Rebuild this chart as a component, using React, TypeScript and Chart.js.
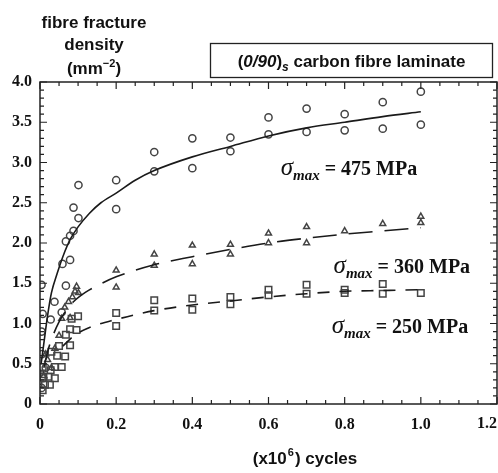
import React, { useEffect, useRef } from 'react';
import { Chart, registerables } from 'chart.js';

Chart.register(...registerables);

// ---- data ----
const cycles475 = [0.004, 0.008, 0.015, 0.005, 0.004, 0.007, 0.004, 0.028, 0.038, 0.057, 0.059, 0.079, 0.068, 0.068, 0.079, 0.088, 0.088, 0.101, 0.101,
  0.2, 0.2, 0.3, 0.3, 0.4, 0.4, 0.5, 0.5, 0.6, 0.6, 0.7, 0.7, 0.8, 0.8, 0.9, 0.9, 1.0, 1.0];
const density475 = [0.2, 0.32, 0.45, 0.62, 0.9, 1.12, 1.48, 1.05, 1.27, 1.14, 1.74, 1.79, 1.47, 2.02, 2.09, 2.15, 2.44, 2.31, 2.72,
  2.78, 2.42, 3.13, 2.89, 3.3, 2.93, 3.31, 3.14, 3.56, 3.35, 3.67, 3.38, 3.6, 3.4, 3.75, 3.42, 3.88, 3.47];

const cycles360 = [0.01, 0.02, 0.03, 0.015, 0.039, 0.05, 0.057, 0.079, 0.065, 0.075, 0.085, 0.092, 0.096, 0.101,
  0.2, 0.2, 0.3, 0.3, 0.4, 0.4, 0.5, 0.5, 0.6, 0.6, 0.7, 0.7, 0.8, 0.9, 1.0, 1.0];
const density360 = [0.35, 0.55, 0.45, 0.62, 0.69, 0.85, 1.06, 1.07, 1.2, 1.27, 1.33, 1.4, 1.46, 1.38,
  1.66, 1.45, 1.86, 1.72, 1.97, 1.74, 1.98, 1.86, 2.12, 2.0, 2.2, 2.0, 2.15, 2.24, 2.33, 2.25];

const cycles250 = [0.007, 0.013, 0.026, 0.009, 0.022, 0.039, 0.007, 0.028, 0.039, 0.057, 0.045, 0.066, 0.03, 0.05, 0.079, 0.068, 0.079, 0.096, 0.083, 0.1,
  0.2, 0.2, 0.3, 0.3, 0.4, 0.4, 0.5, 0.5, 0.6, 0.6, 0.7, 0.7, 0.8, 0.8, 0.9, 0.9, 1.0];
const density250 = [0.17, 0.24, 0.24, 0.34, 0.34, 0.32, 0.46, 0.42, 0.46, 0.46, 0.6, 0.59, 0.65, 0.72, 0.73, 0.86, 0.93, 0.92, 1.06, 1.09,
  1.13, 0.97, 1.29, 1.16, 1.31, 1.17, 1.33, 1.24, 1.42, 1.35, 1.48, 1.37, 1.42, 1.38, 1.49, 1.37, 1.38];

// fitted curves
const fitX475 = [0.003, 0.01, 0.02, 0.03, 0.045, 0.06, 0.08, 0.1, 0.13, 0.16, 0.2, 0.25, 0.3, 0.4, 0.5, 0.6, 0.7, 0.8, 0.9, 1.0];
const fitY475 = [0.5, 0.75, 1.1, 1.38, 1.62, 1.83, 2.05, 2.2, 2.37, 2.5, 2.62, 2.78, 2.9, 3.07, 3.2, 3.33, 3.43, 3.5, 3.57, 3.63];
const fitX360 = [0.01, 0.02, 0.03, 0.05, 0.07, 0.09, 0.12, 0.15, 0.2, 0.3, 0.4, 0.5, 0.6, 0.7, 0.8, 0.9, 1.0];
const fitY360 = [0.45, 0.65, 0.8, 1.02, 1.17, 1.28, 1.39, 1.47, 1.58, 1.73, 1.83, 1.92, 2.0, 2.06, 2.11, 2.15, 2.19];
const fitX250 = [0.06, 0.09, 0.13, 0.2, 0.3, 0.4, 0.5, 0.6, 0.7, 0.8, 0.9, 1.0];
const fitY250 = [0.72, 0.85, 0.95, 1.05, 1.16, 1.23, 1.28, 1.33, 1.37, 1.4, 1.41, 1.42];

const xTickLabels = ['0', '0.2', '0.4', '0.6', '0.8', '1.0', '1.2'];
const yTickLabels = ['0', '0.5', '1.0', '1.5', '2.0', '2.5', '3.0', '3.5', '4.0'];

const seriesLabels = ['475', '360', '250'];

const pairs = (xs: number[], ys: number[]) => xs.map((x, i) => ({ x, y: ys[i] }));

const SERIF = '"Liberation Serif", "Times New Roman", serif';
const SANS = '"Liberation Sans", Arial, sans-serif';

const decorPlugin = {
  id: 'decor',
  afterDraw(chart: any) {
    const { ctx, chartArea: a, scales } = chart;
    const xs = scales.x, ys = scales.y;
    ctx.save();
    // frame
    ctx.strokeStyle = '#222';
    ctx.lineWidth = 1.5;
    ctx.strokeRect(a.left, a.top, a.right - a.left, a.bottom - a.top);
    // x ticks (bottom + top)
    ctx.lineWidth = 1.2;
    for (let i = 0; i <= 24; i++) {
      const px = xs.getPixelForValue(i * 0.05);
      const len = i % 4 === 0 ? 7 : 4;
      ctx.beginPath();
      ctx.moveTo(px, a.bottom); ctx.lineTo(px, a.bottom - len);
      ctx.moveTo(px, a.top); ctx.lineTo(px, a.top + len);
      ctx.stroke();
    }
    for (let i = 0; i <= 40; i++) {
      const py = ys.getPixelForValue(i * 0.1);
      const len = i % 5 === 0 ? 7 : 4;
      ctx.beginPath();
      ctx.moveTo(a.left, py); ctx.lineTo(a.left + len, py);
      ctx.moveTo(a.right, py); ctx.lineTo(a.right - len, py);
      ctx.stroke();
    }

    ctx.fillStyle = '#111';
    ctx.textBaseline = 'alphabetic';
    // last x tick label (kept out of Chart.js so it adds no padding); right-aligned at the canvas edge
    ctx.textAlign = 'right';
    ctx.textBaseline = 'middle';
    ctx.font = `bold 16px ${SERIF}`;
    ctx.fillText(xTickLabels[6], Math.min(xs.getPixelForValue(1.2) + 11, chart.width - 1), a.bottom + 20);
    ctx.textBaseline = 'alphabetic';

    // y title
    ctx.textAlign = 'center';
    ctx.font = `bold 17px ${SANS}`;
    ctx.fillText('fibre fracture', 94, 28);
    ctx.fillText('density', 94, 50);
    // (mm^-2)
    {
      const y = 74;
      ctx.font = `bold 17px ${SANS}`;
      const w1 = ctx.measureText('(mm').width;
      ctx.font = `bold 11px ${SANS}`;
      const w2 = ctx.measureText('\u22122').width;
      ctx.font = `bold 17px ${SANS}`;
      const w3 = ctx.measureText(')').width;
      let x = 94 - (w1 + w2 + w3) / 2;
      ctx.textAlign = 'left';
      ctx.fillText('(mm', x, y); x += w1;
      ctx.font = `bold 11px ${SANS}`;
      ctx.fillText('\u22122', x, y - 7); x += w2;
      ctx.font = `bold 17px ${SANS}`;
      ctx.fillText(')', x, y);
    }

    // title box
    ctx.lineWidth = 1.3;
    ctx.strokeRect(210.5, 43.5, 282, 34);
    {
      const y = 67;
      ctx.textAlign = 'left';
      const parts: [string, string, number][] = [
        ['(', `bold 17px ${SANS}`, 0],
        ['0/90', `italic bold 17px ${SANS}`, 0],
        [')', `bold 17px ${SANS}`, 0],
        ['s', `italic bold 12px ${SANS}`, 4],
        [' carbon fibre laminate', `bold 17px ${SANS}`, 0],
      ];
      let total = 0;
      parts.forEach(([t, f]) => { ctx.font = f; total += ctx.measureText(t).width; });
      let x = 351.5 - total / 2;
      parts.forEach(([t, f, dy]) => { ctx.font = f; ctx.fillText(t, x, y + dy); x += ctx.measureText(t).width; });
    }

    // sigma annotations
    const sigma = (vx: number, vy: number, val: string) => {
      let x = xs.getPixelForValue(vx);
      const y = ys.getPixelForValue(vy);
      ctx.textAlign = 'left';
      ctx.font = `italic 25px ${SERIF}`;
      ctx.fillText('\u03c3', x, y); x += ctx.measureText('\u03c3').width;
      ctx.font = `italic bold 15px ${SERIF}`;
      ctx.fillText('max', x, y + 5); x += ctx.measureText('max').width;
      ctx.font = `bold 20px ${SERIF}`;
      ctx.fillText(` = ${val} MPa`, x, y);
    };
    sigma(0.632, 2.84, seriesLabels[0]);
    sigma(0.771, 1.63, seriesLabels[1]);
    sigma(0.766, 0.88, seriesLabels[2]);

    // x title
    {
      const y = 464;
      ctx.font = `bold 17px ${SANS}`;
      const a1 = ctx.measureText('(x10').width;
      ctx.font = `bold 11px ${SANS}`;
      const a2 = ctx.measureText('6').width;
      ctx.font = `bold 17px ${SANS}`;
      const a3 = ctx.measureText(') cycles').width;
      let x = 304 - (a1 + a2 + a3) / 2;
      ctx.textAlign = 'left';
      ctx.fillText('(x10', x, y); x += a1;
      ctx.font = `bold 11px ${SANS}`;
      ctx.fillText('6', x + 1, y - 8); x += a2 + 2;
      ctx.font = `bold 17px ${SANS}`;
      ctx.fillText(') cycles', x, y);
    }
    ctx.restore();
  },
};

export default function App() {
  const ref = useRef<HTMLCanvasElement | null>(null);
  useEffect(() => {
    document.body.style.margin = '0';
    const canvas = ref.current!;
    const lineDs = (xs: number[], ys: number[], dash: number[]) => ({
      type: 'line' as const,
      data: pairs(xs, ys),
      showLine: true,
      borderColor: '#1a1a1a',
      borderWidth: 1.6,
      borderDash: dash,
      pointRadius: 0,
      cubicInterpolationMode: 'monotone' as const,
      fill: false,
    });
    const ptDs = (xs: number[], ys: number[], style: string, r: number) => ({
      type: 'scatter' as const,
      data: pairs(xs, ys),
      pointStyle: style,
      pointRadius: r,
      borderColor: '#444',
      borderWidth: 1.5,
      backgroundColor: 'rgba(255,255,255,0)',
      showLine: false,
    });
    const chart = new Chart(canvas, {
      type: 'scatter',
      data: {
        datasets: [
          lineDs(fitX475, fitY475, []),
          lineDs(fitX360, fitY360, [24, 12]),
          lineDs(fitX250, fitY250, [12, 10]),
          ptDs(cycles475, density475, 'circle', 3.6),
          ptDs(cycles360, density360, 'triangle', 3.4),
          ptDs(cycles250, density250, 'rect', 4.6),
        ] as any,
      },
      options: {
        animation: false,
        responsive: false,
        maintainAspectRatio: false,
        layout: { padding: { top: 82, right: 1, left: 0, bottom: 0 }, autoPadding: false },
        plugins: { legend: { display: false }, tooltip: { enabled: false }, title: { display: false } },
        scales: {
          x: {
            type: 'linear',
            min: 0,
            max: 1.2,
            grid: { display: false, drawTicks: false },
            border: { display: false },
            ticks: {
              stepSize: 0.2,
              padding: 11,
              color: '#111',
              font: { family: SERIF, size: 16, weight: 'bold' },
              maxRotation: 0,
              autoSkip: false,
              callback: (v: any) => {
                const i = Math.round(Number(v) / 0.2);
                return i >= 6 ? '' : (xTickLabels[i] ?? '');
              },
            },
            afterFit: (s: any) => { s.height = 69; s.paddingLeft = 0; s.paddingRight = 0; },
          },
          y: {
            type: 'linear',
            min: 0,
            max: 4,
            grid: { display: false, drawTicks: false },
            border: { display: false },
            ticks: {
              stepSize: 0.5,
              padding: 8,
              color: '#111',
              font: { family: SERIF, size: 16, weight: 'bold' },
              autoSkip: false,
              callback: (v: any) => yTickLabels[Math.round(Number(v) / 0.5)] ?? '',
            },
            afterFit: (s: any) => { s.width = 40; s.paddingTop = 0; s.paddingBottom = 0; },
          },
        },
      } as any,
      plugins: [decorPlugin],
    });
    return () => chart.destroy();
  }, []);
  return <canvas ref={ref} width={498} height={473} style={{ display: 'block', width: 498, height: 473 }} />;
}
